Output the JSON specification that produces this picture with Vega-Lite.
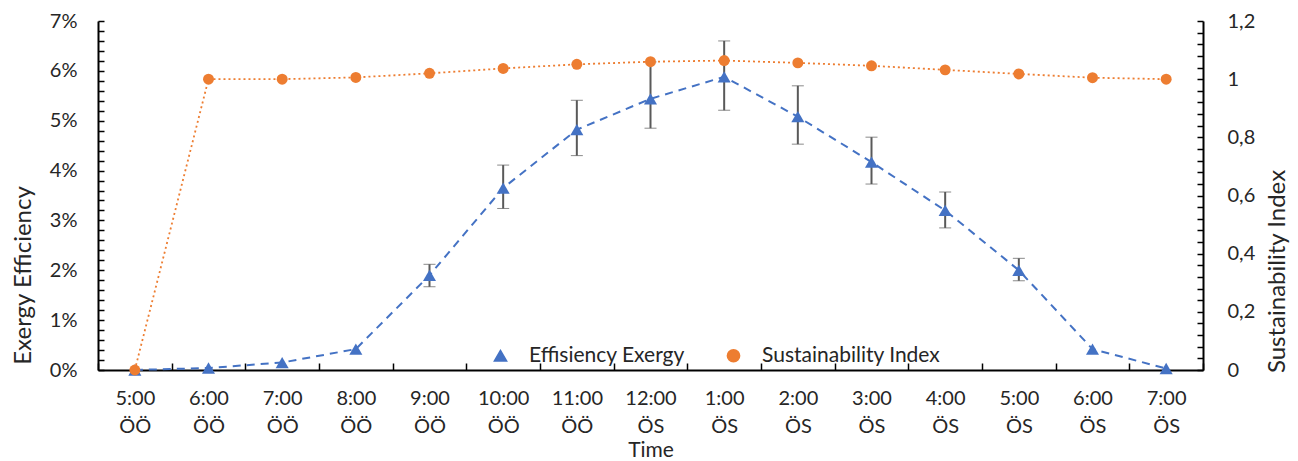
{
  "$schema": "https://vega.github.io/schema/vega-lite/v6.json",
  "width": 1105,
  "height": 349,
  "autosize": {"type": "none"},
  "padding": {"left": 98, "top": 21, "right": 95, "bottom": 91},
  "background": "#ffffff",
  "config": {
    "view": {"stroke": null},
    "font": "Lato",
    "axis": {
      "grid": false,
      "domainColor": "#000000",
      "domainWidth": 2,
      "tickColor": "#000000",
      "tickWidth": 1.5,
      "labelColor": "#262626",
      "titleColor": "#262626",
      "labelFontSize": 20,
      "titleFontSize": 24,
      "titleFontWeight": "normal",
      "labelOverlap": false
    },
    "legend": {"labelFontSize": 21, "labelColor": "#262626", "labelLimit": 400}
  },
  "data": {
    "values": [
      {"t": "5:00 ÖÖ", "ex": 0, "lo": null, "hi": null, "si": 0},
      {"t": "6:00 ÖÖ", "ex": 0.04, "lo": null, "hi": null, "si": 1.0},
      {"t": "7:00 ÖÖ", "ex": 0.15, "lo": null, "hi": null, "si": 1.0},
      {"t": "8:00 ÖÖ", "ex": 0.42, "lo": null, "hi": null, "si": 1.006},
      {"t": "9:00 ÖÖ", "ex": 1.9, "lo": 1.67, "hi": 2.12, "si": 1.02},
      {"t": "10:00 ÖÖ", "ex": 3.65, "lo": 3.24, "hi": 4.11, "si": 1.037},
      {"t": "11:00 ÖÖ", "ex": 4.82, "lo": 4.3, "hi": 5.41, "si": 1.051},
      {"t": "12:00 ÖS", "ex": 5.44, "lo": 4.85, "hi": 6.18, "si": 1.06},
      {"t": "1:00 ÖS", "ex": 5.88, "lo": 5.21, "hi": 6.6, "si": 1.064},
      {"t": "2:00 ÖS", "ex": 5.08, "lo": 4.53, "hi": 5.7, "si": 1.056},
      {"t": "3:00 ÖS", "ex": 4.17, "lo": 3.73, "hi": 4.67, "si": 1.046},
      {"t": "4:00 ÖS", "ex": 3.2, "lo": 2.85, "hi": 3.57, "si": 1.032},
      {"t": "5:00 ÖS", "ex": 2.0, "lo": 1.79, "hi": 2.24, "si": 1.018},
      {"t": "6:00 ÖS", "ex": 0.42, "lo": null, "hi": null, "si": 1.005},
      {"t": "7:00 ÖS", "ex": 0.03, "lo": null, "hi": null, "si": 1.0}
    ]
  },
  "encoding": {
    "x": {
      "field": "t",
      "type": "nominal",
      "scale": {
        "domain": ["5:00 ÖÖ", "6:00 ÖÖ", "7:00 ÖÖ", "8:00 ÖÖ", "9:00 ÖÖ", "10:00 ÖÖ", "11:00 ÖÖ", "12:00 ÖS", "1:00 ÖS", "2:00 ÖS", "3:00 ÖS", "4:00 ÖS", "5:00 ÖS", "6:00 ÖS", "7:00 ÖS"],
        "paddingInner": 0,
        "paddingOuter": 0
      },
      "axis": {
        "title": "Time",
        "labelAngle": 0,
        "labelFontSize": 20,
        "titleFontSize": 21,
        "labelExpr": "split(datum.label, ' ')",
        "labelLineHeight": 28,
        "labelBaseline": "top",
        "labelPadding": 25,
        "tickBand": "extent",
        "tickSize": -7,
        "titleBaseline": "alphabetic",
        "titleY": 86
      }
    }
  },
  "layer": [
    {
      "layer": [
        {
          "transform": [{"filter": "datum.lo != null"}],
          "mark": {
            "type": "errorbar",
            "ticks": {"size": 12, "color": "#595959", "strokeWidth": 2},
            "rule": {"color": "#595959", "strokeWidth": 2}
          },
          "encoding": {
            "y": {
              "field": "lo",
              "type": "quantitative",
              "scale": {"domain": [0, 7]},
              "axis": {
                "orient": "left",
                "title": "Exergy Efficiency",
                "titleFontSize": 24,
                "titleX": -75,
                "titleY": 254,
                "titleBaseline": "middle",
                "tickCount": 100,
                "tickSize": -6,
                "labelPadding": 27,
                "labelOverlap": false,
                "labelBound": false,
                "values": [0,0.2,0.4,0.6,0.8,1,1.2,1.4,1.6,1.8,2,2.2,2.4,2.6,2.8,3,3.2,3.4,3.6,3.8,4,4.2,4.4,4.6,4.8,5,5.2,5.4,5.6,5.8,6,6.2,6.4,6.6,6.8,7],
                "labelExpr": "abs(datum.value - round(datum.value)) < 0.01 ? round(datum.value) + '%' : ''"
              }
            },
            "y2": {"field": "hi"}
          }
        },
        {
          "mark": {"type": "line", "strokeDash": [8, 6], "strokeWidth": 2},
          "encoding": {
            "y": {
              "field": "ex",
              "type": "quantitative",
              "scale": {"domain": [0, 7]},
              "axis": {
                "orient": "left",
                "title": "Exergy Efficiency",
                "titleFontSize": 24,
                "titleX": -75,
                "titleY": 254,
                "titleBaseline": "middle",
                "tickCount": 100,
                "tickSize": -6,
                "labelPadding": 27,
                "labelOverlap": false,
                "labelBound": false,
                "values": [0,0.2,0.4,0.6,0.8,1,1.2,1.4,1.6,1.8,2,2.2,2.4,2.6,2.8,3,3.2,3.4,3.6,3.8,4,4.2,4.4,4.6,4.8,5,5.2,5.4,5.6,5.8,6,6.2,6.4,6.6,6.8,7],
                "labelExpr": "abs(datum.value - round(datum.value)) < 0.01 ? round(datum.value) + '%' : ''"
              }
            },
            "color": {"datum": "Effisiency Exergy", "scale": {"domain": ["Effisiency Exergy", "Sustainability Index"], "range": ["#4472C4", "#ED7D31"]}}
          }
        },
        {
          "mark": {"type": "point", "filled": true, "opacity": 1, "size": 170},
          "encoding": {
            "y": {"field": "ex", "type": "quantitative"},
            "color": {
              "datum": "Effisiency Exergy",
              "scale": {"domain": ["Effisiency Exergy", "Sustainability Index"], "range": ["#4472C4", "#ED7D31"]},
              "legend": {"title": null, "orient": "none", "legendX": 392, "legendY": 324, "direction": "horizontal", "labelFontSize": 21, "labelLimit": 400, "symbolSize": 150, "labelOffset": 18, "columnPadding": 38, "padding": 0}
            },
            "shape": {
              "datum": "Effisiency Exergy",
              "scale": {"domain": ["Effisiency Exergy", "Sustainability Index"], "range": ["triangle-up", "circle"]},
              "legend": {"title": null, "orient": "none", "legendX": 392, "legendY": 324, "direction": "horizontal", "labelFontSize": 21, "labelLimit": 400, "symbolSize": 150, "labelOffset": 18, "columnPadding": 38, "padding": 0}
            }
          }
        }
      ]
    },
    {
      "layer": [
        {
          "mark": {"type": "line", "strokeDash": [2, 3], "strokeWidth": 1.8},
          "encoding": {
            "y": {
              "field": "si",
              "type": "quantitative",
              "scale": {"domain": [0, 1.2]},
              "axis": {
                "orient": "right",
                "title": "Sustainability Index",
                "titleFontSize": 24,
                "titleAngle": 270,
                "titleX": 74,
                "titleY": 250,
                "titleBaseline": "middle",
                "tickCount": 100,
                "tickSize": -6,
                "labelPadding": 30,
                "labelOverlap": false,
                "labelBound": false,
                "values": [0,0.04,0.08,0.12,0.16,0.2,0.24,0.28,0.32,0.36,0.4,0.44,0.48,0.52,0.56,0.6,0.64,0.68,0.72,0.76,0.8,0.84,0.88,0.92,0.96,1,1.04,1.08,1.12,1.16,1.2],
                "labelExpr": "abs(datum.value * 5 - round(datum.value * 5)) < 0.01 ? replace(format(datum.value, '.1~f'), '.', ',') : ''"
              }
            },
            "color": {"datum": "Sustainability Index"}
          }
        },
        {
          "mark": {"type": "point", "filled": true, "opacity": 1, "size": 120},
          "encoding": {
            "y": {"field": "si", "type": "quantitative"},
            "color": {"datum": "Sustainability Index"},
            "shape": {"datum": "Sustainability Index"}
          }
        }
      ]
    }
  ],
  "resolve": {"scale": {"y": "independent"}}
}
